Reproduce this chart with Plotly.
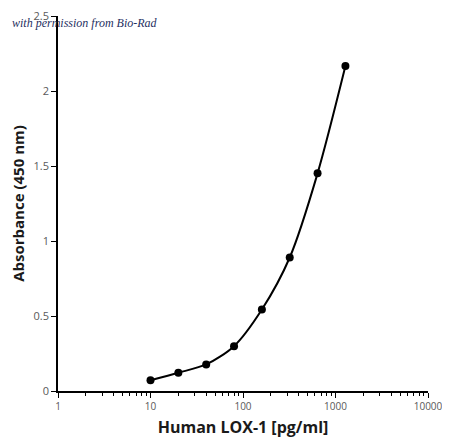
import plotly.graph_objects as go

concentration = [10, 20, 40, 80, 160, 320, 640, 1280]
absorbance = [0.072, 0.122, 0.177, 0.299, 0.543, 0.89, 1.451, 2.166]

x_tickvals = [1, 10, 100, 1000, 10000]
x_ticktext = ["1", "10", "100", "1000", "10000"]
y_tickvals = [0, 0.5, 1, 1.5, 2, 2.5]
y_ticktext = ["0", "0.5", "1", "1.5", "2", "2.5"]

minor_vals = [m * d for d in [1, 10, 100, 1000] for m in range(2, 10)]

fig = go.Figure()
fig.add_trace(go.Scatter(
    x=concentration, y=absorbance, mode="lines+markers",
    line=dict(color="black", width=2, shape="spline", smoothing=0.8),
    marker=dict(color="black", size=8),
    showlegend=False,
))

fig.update_layout(
    template="none",
    width=434, height=430,
    margin=dict(l=50, r=14, t=8, b=47, pad=0),
    paper_bgcolor="white", plot_bgcolor="white",
    font=dict(family="Open Sans", color="#595959", size=11),
    xaxis=dict(
        type="log", range=[0, 4], automargin=False,
        tickmode="array", tickvals=x_tickvals, ticktext=x_ticktext,
        ticklabeloverflow="allow",
        showgrid=False, zeroline=False,
        showline=True, linecolor="black", linewidth=1.5,
        ticks="outside", ticklen=5, tickcolor="black", tickwidth=1,
        minor=dict(tickmode="array", tickvals=minor_vals, ticks="outside",
                   ticklen=3, tickcolor="black", tickwidth=1, showgrid=False),
        title=dict(text="<b>Human LOX-1 [pg/ml]</b>",
                   font=dict(family="Open Sans", size=16, color="#1a1a1a"), standoff=10),
        tickfont=dict(size=10, color="#595959"),
    ),
    yaxis=dict(
        range=[0, 2.5], automargin=False,
        tickmode="array", tickvals=y_tickvals, ticktext=y_ticktext,
        ticklabeloverflow="allow",
        showgrid=False, zeroline=False,
        showline=True, linecolor="black", linewidth=1.5,
        ticks="outside", ticklen=5, tickcolor="black", tickwidth=1,
        title=dict(text="<b>Absorbance (450 nm)</b>",
                   font=dict(family="Open Sans", size=15, color="#1a1a1a"), standoff=12),
        tickfont=dict(size=11, color="#595959"),
    ),
)

fig.add_annotation(
    text="<i>with permission from Bio-Rad</i>",
    xref="paper", yref="paper", x=-0.13, y=0.981,
    xanchor="left", yanchor="middle", showarrow=False,
    font=dict(family="Liberation Serif", size=12, color="#1f2f5f"),
)

fig.write_html("out.html")
